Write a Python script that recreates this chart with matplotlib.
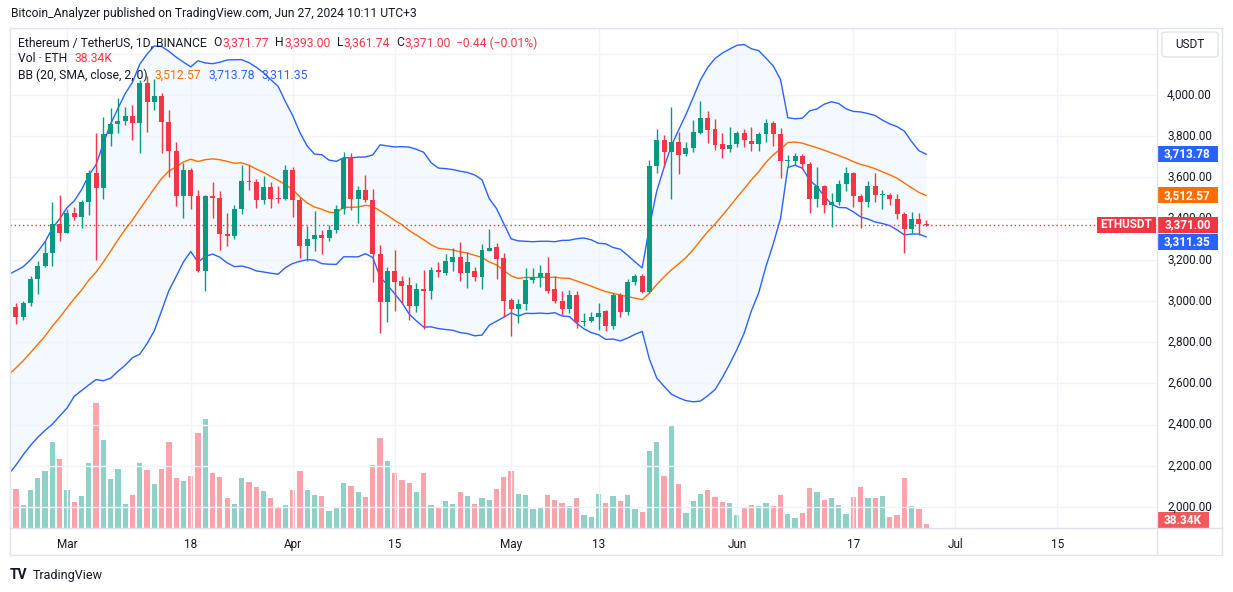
import matplotlib
matplotlib.use("Agg")
import matplotlib.pyplot as plt
import matplotlib.dates as mdates
import matplotlib.transforms as mtransforms
from matplotlib.patches import Rectangle, FancyBboxPatch
from matplotlib.lines import Line2D
import pandas as pd

plt.rcParams['font.family'] = ['Roboto', 'DejaVu Sans']

W, H = 1233, 592
UP = '#089981'
DOWN = '#F23645'
BLUE = '#2962FF'
ORANGE = '#FF6D00'
TXT = '#131722'
GRID = '#f0f3fa'
BORDER = '#e0e3eb'

# ETH/USDT daily candles, 23 Feb - 27 Jun 2024
first_day = "2024-02-23"
opens = [2970, 2922, 2992, 3107, 3170, 3233, 3374, 3330, 3427, 3408,
         3480, 3621, 3549, 3811, 3859, 3874, 3898, 3864, 4058, 3966,
         3995, 3870, 3730, 3510, 3636, 3510, 3147, 3510, 3501, 3327,
         3317, 3447, 3583, 3577, 3490, 3555, 3502, 3497, 3636, 3490,
         3268, 3300, 3320, 3305, 3345, 3447, 3693, 3495, 3539, 3490,
         3227, 2997, 3146, 3097, 3078, 2977, 3058, 3050, 3151, 3137,
         3191, 3214, 3134, 3146, 3118, 3243, 3262, 3208, 3005, 2961,
         2985, 3102, 3117, 3136, 3058, 3002, 2961, 3029, 2900, 2903,
         2920, 2952, 2881, 3030, 2946, 3090, 3119, 3046, 3655, 3782,
         3725, 3772, 3714, 3741, 3817, 3890, 3835, 3762, 3738, 3760,
         3815, 3775, 3760, 3810, 3866, 3812, 3679, 3681, 3706, 3667,
         3497, 3560, 3468, 3481, 3566, 3622, 3510, 3483, 3560, 3514,
         3517, 3497, 3420, 3351, 3397, 3371.77]
highs = [2990, 3002, 3120, 3194, 3290, 3480, 3515, 3449, 3455, 3490,
         3636, 3817, 3895, 3939, 3987, 3944, 3951, 4073, 4093, 4078,
         4008, 3927, 3773, 3671, 3645, 3539, 3515, 3576, 3534, 3429,
         3466, 3660, 3660, 3590, 3607, 3578, 3558, 3660, 3650, 3505,
         3364, 3437, 3345, 3369, 3466, 3722, 3720, 3560, 3612, 3544,
         3272, 3167, 3248, 3121, 3118, 3086, 3150, 3167, 3191, 3227,
         3256, 3288, 3240, 3163, 3277, 3350, 3280, 3232, 3016, 3010,
         3162, 3159, 3175, 3215, 3121, 3049, 3053, 3050, 2940, 2948,
         2989, 2956, 3040, 3037, 3107, 3130, 3131, 3684, 3833, 3806,
         3943, 3819, 3774, 3879, 3971, 3924, 3882, 3817, 3847, 3825,
         3833, 3843, 3822, 3885, 3875, 3840, 3710, 3717, 3712, 3675,
         3652, 3562, 3523, 3587, 3649, 3628, 3520, 3583, 3622, 3539,
         3525, 3520, 3430, 3430, 3425, 3393.00]
lows = [2890, 2906, 2978, 3034, 3165, 3170, 3291, 3328, 3392, 3356,
        3417, 3199, 3494, 3752, 3814, 3856, 3782, 3718, 3822, 3927,
        3717, 3600, 3463, 3405, 3447, 3140, 3050, 3405, 3246, 3265,
        3300, 3420, 3539, 3453, 3470, 3450, 3474, 3490, 3410, 3211,
        3196, 3243, 3228, 3290, 3330, 3420, 3442, 3380, 3480, 3094,
        2847, 2900, 2953, 2986, 2908, 2945, 2864, 3010, 3115, 3126,
        3146, 3097, 3065, 3097, 3058, 3243, 3107, 2924, 2830, 2892,
        2956, 3086, 3070, 3037, 2989, 2932, 2940, 2867, 2879, 2900,
        2859, 2854, 2863, 2924, 2932, 3078, 3040, 3040, 3619, 3649,
        3494, 3617, 3706, 3722, 3812, 3769, 3733, 3696, 3721, 3749,
        3749, 3730, 3728, 3773, 3754, 3596, 3649, 3660, 3639, 3426,
        3458, 3426, 3358, 3466, 3535, 3458, 3353, 3458, 3482, 3445,
        3466, 3398, 3235, 3329, 3320, 3361.74]
closes = [2922, 2992, 3107, 3170, 3233, 3374, 3330, 3427, 3408, 3480,
          3621, 3549, 3811, 3859, 3874, 3898, 3864, 4058, 3966, 3995,
          3870, 3730, 3510, 3636, 3510, 3147, 3510, 3501, 3327, 3317,
          3447, 3583, 3577, 3490, 3555, 3497, 3497, 3636, 3490, 3268,
          3300, 3320, 3305, 3345, 3447, 3693, 3495, 3539, 3490, 3227,
          2997, 3146, 3094, 3074, 2977, 3058, 3050, 3151, 3141, 3194,
          3214, 3134, 3191, 3118, 3248, 3256, 3204, 3002, 2961, 2985,
          3102, 3117, 3136, 3050, 3001, 2961, 3029, 2900, 2905, 2924,
          2941, 2881, 3030, 2946, 3090, 3119, 3046, 3655, 3782, 3725,
          3772, 3709, 3744, 3822, 3890, 3830, 3757, 3739, 3757, 3815,
          3780, 3760, 3810, 3866, 3812, 3679, 3681, 3706, 3667, 3497,
          3560, 3468, 3481, 3566, 3622, 3510, 3483, 3560, 3514, 3517,
          3497, 3420, 3351, 3397, 3371.77, 3371.00]
# volume, thousand ETH
volumes = [390, 230, 380, 500, 570, 860, 690, 380, 260, 320,
           650, 1250, 880, 490, 590, 240, 330, 650, 580, 440,
           590, 860, 500, 470, 520, 950, 1090, 550, 510, 300,
           240, 500, 460, 410, 370, 300, 200, 230, 380, 570,
           380, 330, 320, 170, 200, 450, 420, 360, 310, 630,
           900, 670, 550, 480, 450, 360, 550, 230, 210, 270,
           240, 360, 320, 240, 300, 280, 390, 510, 570, 340,
           330, 190, 210, 330, 280, 250, 220, 300, 130, 110,
           340, 250, 320, 270, 330, 190, 160, 770, 860, 520,
           1020, 440, 150, 270, 340, 380, 310, 260, 250, 130,
           200, 230, 220, 250, 220, 330, 140, 100, 150, 400,
           360, 280, 300, 230, 140, 310, 410, 300, 300, 320,
           110, 130, 500, 220, 190, 38.34]
# closes 3 Feb - 22 Feb, needed for the first Bollinger values
prior_closes = [2297, 2290, 2320, 2372, 2425, 2420, 2485, 2500, 2506, 2659,
                2642, 2778, 2822, 2803, 2785, 2881, 2945, 3014, 2966, 2970]

tick_dates = ["2024-03-01", "2024-03-18", "2024-04-01", "2024-04-15", "2024-05-01",
              "2024-05-13", "2024-06-01", "2024-06-17", "2024-07-01", "2024-07-15"]
tick_labels = ["Mar", "18", "Apr", "15", "May", "13", "Jun", "17", "Jul", "15"]
price_ticks = [2000, 2200, 2400, 2600, 2800, 3000, 3200, 3400, 3600, 3800, 4000]

bb_basis, bb_upper, bb_lower = 3512.57, 3713.78, 3311.35
last_vol_txt = "38.34K"

assert len(opens) == len(highs) == len(lows) == len(closes) == len(volumes)

dates = pd.date_range(first_day, periods=len(closes), freq="D")
x = mdates.date2num(dates)
colors = [UP if c >= o else DOWN for o, c in zip(opens, closes)]

# bollinger bands 20, 2
allc = pd.Series(prior_closes + closes, dtype=float)
mid = allc.rolling(20).mean()
sd = allc.rolling(20).std(ddof=0)
n_keep = len(closes) + 1
bx = mdates.date2num(pd.date_range(pd.Timestamp(first_day) - pd.Timedelta(days=1),
                                   periods=n_keep, freq="D"))
mid_v = mid.values[-n_keep:]
up_v = (mid + 2 * sd).values[-n_keep:]
lo_v = (mid - 2 * sd).values[-n_keep:]

fig = plt.figure(figsize=(W / 100, H / 100), dpi=100)
fig.patch.set_facecolor('white')
rect = [10 / W, 64 / H, 1147 / W, 500 / H]
vax = fig.add_axes(rect)
ax = fig.add_axes(rect)
ax.patch.set_visible(False)

x0 = x[0]
xlim = (x0 - 0.82, x0 + 156.7)
ylim = (1898.2, 4325.2)
pp = (ylim[1] - ylim[0]) / 500.0  # price per pixel

# volume
vax.bar(x, volumes, width=0.72, color=colors, alpha=0.45, linewidth=0)
vax.set_xlim(xlim)
vax.set_ylim(0, 5000)
vax.axis('off')

# price pane
ax.set_xlim(xlim)
ax.set_ylim(ylim)
ax.set_yticks(price_ticks + [4200])
ax.tick_params(axis='y', length=0, labelleft=False, labelright=False)
ax.set_xticks(mdates.date2num(pd.to_datetime(tick_dates)))
ax.set_xticklabels(tick_labels)
ax.tick_params(axis='x', length=0, pad=7, labelsize=8.5, labelcolor=TXT)
ax.grid(True, color=GRID, lw=1, zorder=0)
for s in ax.spines.values():
    s.set_visible(False)

ax.fill_between(bx, lo_v, up_v, color='#2196F3', alpha=0.05, lw=0, zorder=1)
ax.plot(bx, up_v, color=BLUE, lw=1, zorder=2)
ax.plot(bx, lo_v, color=BLUE, lw=1, zorder=2)
ax.plot(bx, mid_v, color=ORANGE, lw=1, zorder=2)

ax.vlines(x, lows, highs, colors=colors, lw=1, zorder=3)
bottoms = [min(o, c) for o, c in zip(opens, closes)]
heights = [max(abs(c - o), pp) for o, c in zip(opens, closes)]
ax.bar(x, heights, bottom=bottoms, width=0.68, color=colors, lw=0, zorder=4)

ax.axhline(closes[-1], color=DOWN, lw=1, ls=(0, (1, 2)), zorder=2)

# right price scale
trans = mtransforms.blended_transform_factory(ax.transAxes, ax.transData)
ax_w = 1147.0
for p in price_ticks:
    ax.text(1.0 + 10 / ax_w, p, f"{p:,.2f}", transform=trans, ha='left', va='center',
            fontsize=8.5, color=TXT, clip_on=False, zorder=5)


def tag(yc, text, color, x_px=0, w_px=61, h_px=16):
    ax.add_patch(Rectangle((1.0 + x_px / ax_w, yc - h_px * pp / 2), w_px / ax_w, h_px * pp,
                           transform=trans, facecolor=color, edgecolor='none',
                           clip_on=False, zorder=8))
    ax.text(1.0 + (x_px + w_px / 2) / ax_w, yc, text, transform=trans, ha='center',
            va='center', fontsize=8.5, color='white', fontweight='bold',
            clip_on=False, zorder=9)


tag(bb_upper, f"{bb_upper:,.2f}", BLUE)
tag(bb_basis, f"{bb_basis:,.2f}", ORANGE)
tag(closes[-1], f"{closes[-1]:,.2f}", DOWN)
tag(min(bb_lower, closes[-1] - 17 * pp), f"{bb_lower:,.2f}", BLUE)
tag(closes[-1], "ETHUSDT", DOWN, x_px=-60, w_px=59)

vax.add_patch(Rectangle((1.0, 0), 52 / ax_w, 16 / 500, transform=vax.transAxes,
                        facecolor='#F05A5A', edgecolor='none', clip_on=False, zorder=8))
vax.text(1.0 + 26 / ax_w, 8 / 500, last_vol_txt, transform=vax.transAxes, ha='center',
         va='center', fontsize=8.5, color='white', fontweight='bold', clip_on=False, zorder=9)


def px(xp, yp):
    return xp / W, 1 - yp / H


def line_px(xs, ys):
    fig.add_artist(Line2D([v / W for v in xs], [1 - v / H for v in ys],
                          color=BORDER, lw=1, transform=fig.transFigure))


# frame of the chart
line_px([10, 1222], [28, 28])
line_px([10, 1222], [555, 555])
line_px([10, 1222], [528, 528])
line_px([10, 10], [28, 555])
line_px([1222, 1222], [28, 555])
line_px([1157, 1157], [28, 555])

# USDT box
fig.add_artist(FancyBboxPatch(px(1162, 57), 56 / W, 25 / H,
                              boxstyle="round,pad=0,rounding_size=0.004",
                              transform=fig.transFigure, facecolor='white',
                              edgecolor=BORDER, lw=1))
fig.text(*px(1190, 44), "USDT", ha='center', va='center', fontsize=8.5, color=TXT)

# header and legend
fig.text(*px(11, 14), "Bitcoin_Analyzer published on TradingView.com, Jun 27, 2024 10:11 UTC+3",
         ha='left', va='center', fontsize=8.7, color=TXT)

renderer = fig.canvas.get_renderer()


def text_row(y, x_start, parts, size=8.7):
    # parts: (text, colour, gap after in px)
    xp = x_start
    for s, c, gap in parts:
        t = fig.text(*px(xp, y), s, ha='left', va='center', fontsize=size, color=c)
        xp += t.get_window_extent(renderer=renderer).width + gap


text_row(43, 18, [("Ethereum / TetherUS, 1D, BINANCE", TXT, 7),
                  ("O", TXT, 0.5), (f"{opens[-1]:,.2f}", DOWN, 6),
                  ("H", TXT, 0.5), (f"{highs[-1]:,.2f}", DOWN, 6),
                  ("L", TXT, 0.5), (f"{lows[-1]:,.2f}", DOWN, 6),
                  ("C", TXT, 0.5), (f"{closes[-1]:,.2f}", DOWN, 5),
                  ("\u22120.44 (\u22120.01%)", DOWN, 0)])
text_row(59, 18, [("Vol \u00b7 ETH", TXT, 7), (last_vol_txt, DOWN, 0)])
text_row(75, 18, [("BB (20, SMA, close, 2, 0)", TXT, 7),
                  (f"{bb_basis:,.2f}", ORANGE, 7),
                  (f"{bb_upper:,.2f}", BLUE, 7),
                  (f"{bb_lower:,.2f}", BLUE, 0)])

# footer
fig.text(*px(10, 575), "TV", ha='left', va='center', fontsize=10, fontweight='bold', color=TXT)
fig.text(*px(33, 575), "TradingView", ha='left', va='center', fontsize=9, color=TXT)

fig.savefig("out.png", dpi=100, facecolor='white')
